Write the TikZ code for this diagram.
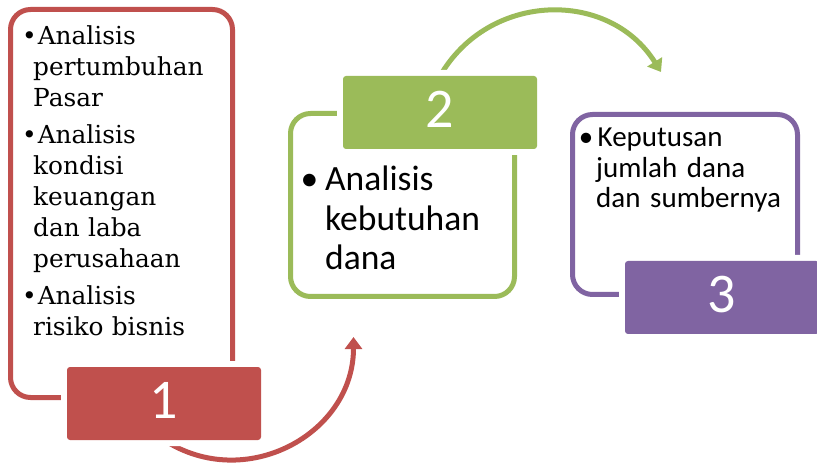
\documentclass[tikz,border=0pt]{standalone}
\usepackage{fontspec}
\setmainfont{Carlito}
\newfontfamily\bookface{DejaVu Serif}
\usetikzlibrary{positioning,arrows.meta,backgrounds}

\definecolor{accentRed}{HTML}{C0504D}
\definecolor{accentGreen}{HTML}{9BBB59}
\definecolor{accentPurple}{HTML}{8064A2}

\begin{document}
\begin{tikzpicture}[x=1pt, y=1pt,
        panel/.style={rectangle, line width=5pt, rounded corners=20pt, fill=white, outer sep=0pt},
        badge/.style={rectangle, rounded corners=3pt, minimum width=194pt, minimum height=73pt, inner sep=0pt, outer sep=0pt, text=white, text depth=6pt, font=\fontsize{56}{60}\selectfont, preaction={draw=white, line width=12pt}},
        listtext/.style={inner sep=0pt, align=left, anchor=base west},
        swoosh/.style={line width=5pt, -{Triangle[width=17pt, length=12pt]}},
    ]
    \useasboundingbox (0,0) rectangle (817,464);

    \node[panel, draw=accentRed, minimum width=222pt, minimum height=388pt] (AnalisisBox) at (121.5,260.5) {};
    \node[panel, draw=accentGreen, minimum width=224pt, minimum height=183pt] (KebutuhanBox) at (402.5,259) {};
    \node[panel, draw=accentPurple, minimum width=225pt, minimum height=180pt] (KeputusanBox) at (685,259.5) {};

    \node[badge, fill=accentRed] (StepOne) [below right=-30.5pt and 56.5pt of AnalisisBox.south west] {1};
    \node[badge, fill=accentGreen] (StepTwo) [below right=-37.5pt and 52.5pt of KebutuhanBox.north west] {2};
    \node[badge, fill=accentPurple] (StepThree) [below right=-33.5pt and 52.5pt of KeputusanBox.south west] {3};

    \coordinate (RedTip) at (353.5,127);
    \coordinate (GreenTip) at (661,392);

    \begin{pgfonlayer}{background}
        \draw[swoosh, accentRed] (StepOne.south) to[out=-33, in=-90, looseness=1.15] (RedTip);
        \draw[swoosh, accentGreen] (StepTwo.north) to[out=60, in=122, looseness=1.13] (GreenTip);
    \end{pgfonlayer}

    \node[listtext, text width=190pt, font=\bookface\fontsize{24.8}{31}\selectfont] (AnalisisText) at ([shift={(22.5,-35.5)}]AnalisisBox.north west)
        {\hspace*{-11pt}\textbullet\hspace{1pt}Analisis\\ pertumbuhan\\ Pasar\\[6pt]
         \hspace*{-11pt}\textbullet\hspace{1pt}Analisis\\ kondisi\\ keuangan\\ dan laba\\ perusahaan\\[6pt]
         \hspace*{-11pt}\textbullet\hspace{1pt}Analisis\\ risiko bisnis};
    \node[listtext, text width=180pt, font=\fontsize{35.5}{39.5}\selectfont] (KebutuhanText) at ([shift={(34.5,-77.5)}]KebutuhanBox.north west)
        {\llap{\textbullet\hspace{7pt}}Analisis\\ kebutuhan\\ dana};
    \node[listtext, text width=200pt, font=\fontsize{29}{30.5}\selectfont] (KeputusanText) at ([shift={(23.5,-32.5)}]KeputusanBox.north west)
        {\llap{\textbullet\hspace{3pt}}\hspace{1.5pt}Keputusan\\ jumlah dana\\ dan sumbernya};
\end{tikzpicture}
\end{document}
